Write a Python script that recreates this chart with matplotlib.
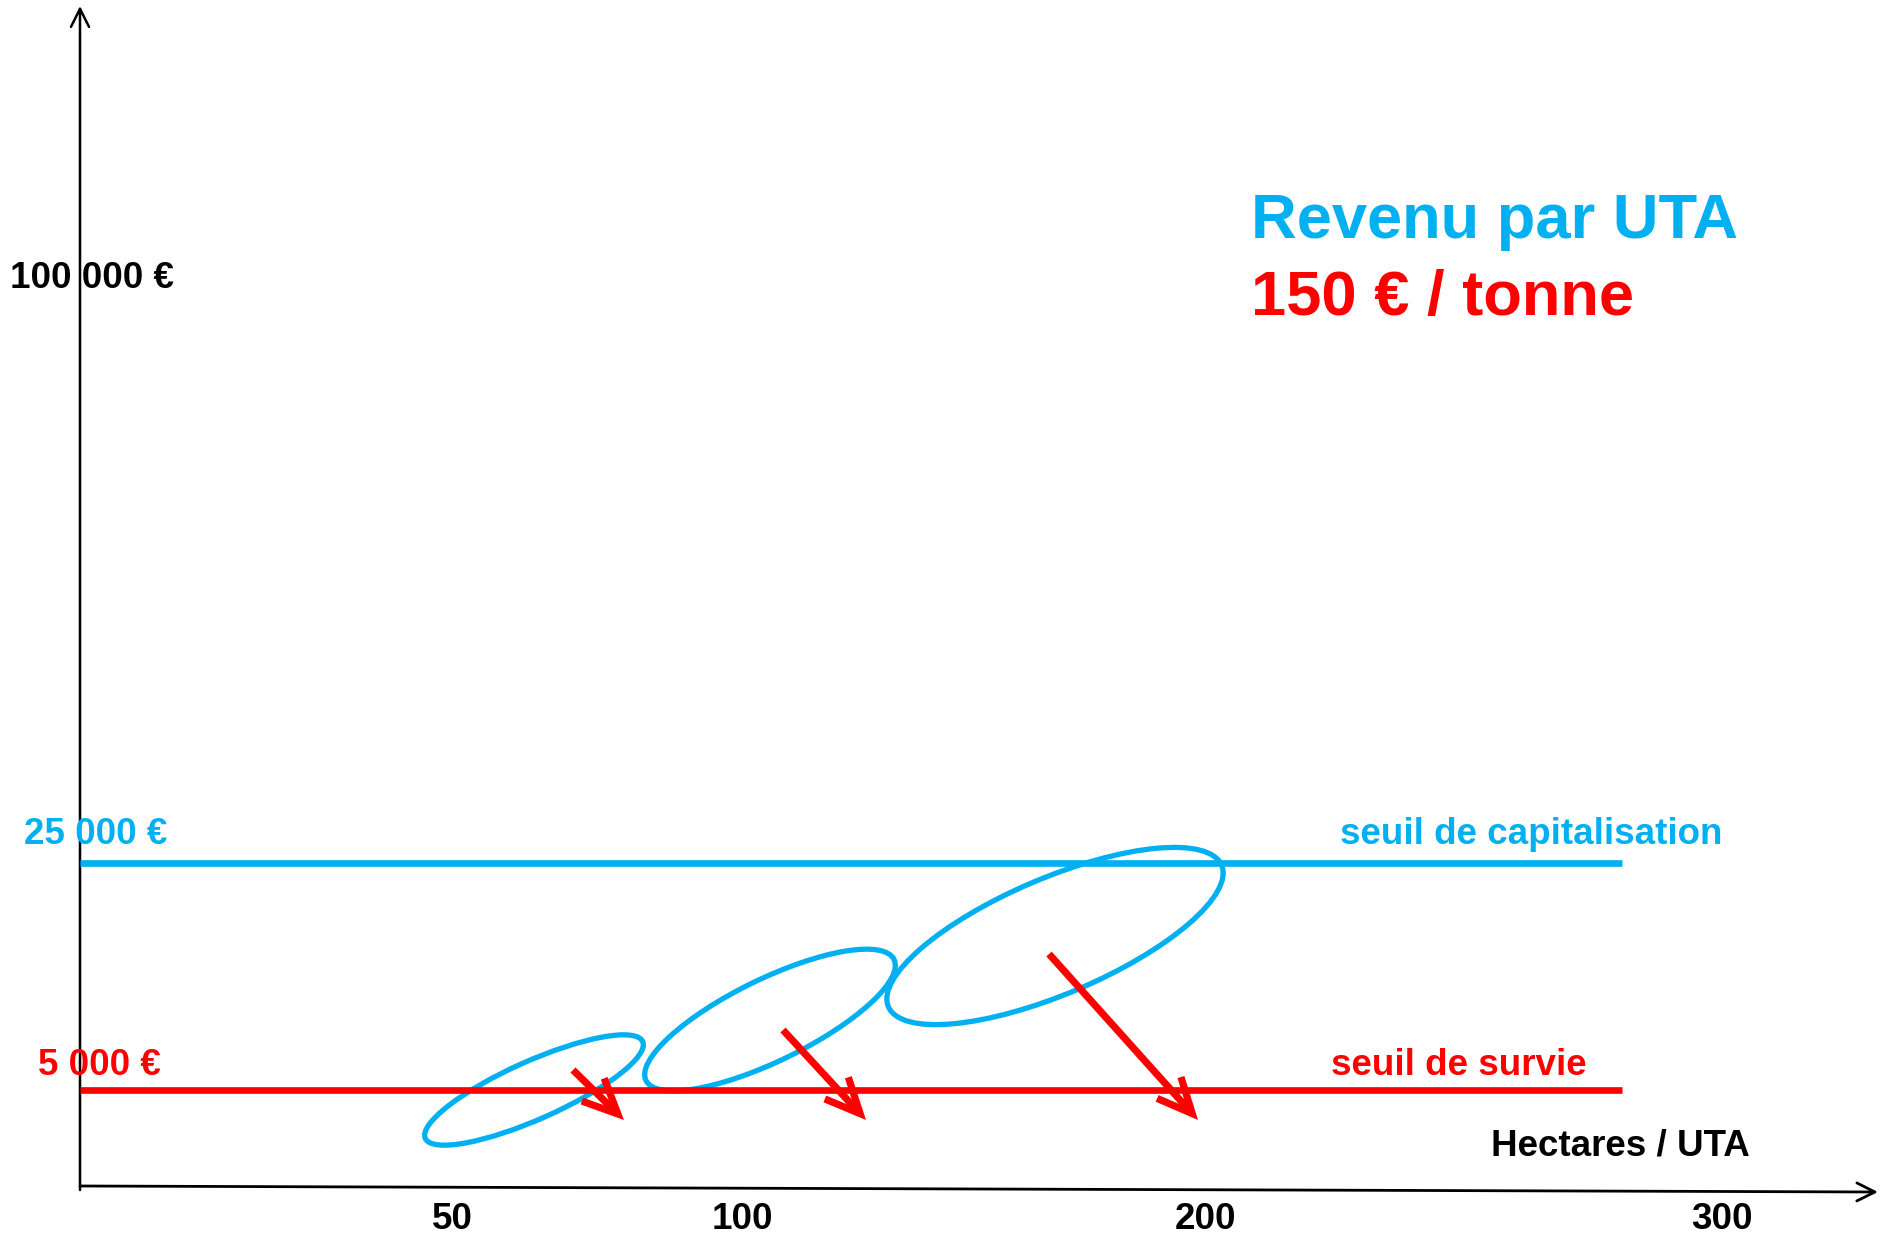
import matplotlib.pyplot as plt
from matplotlib.patches import Ellipse, FancyArrowPatch

plt.rcParams['font.family'] = ['Liberation Sans', 'DejaVu Sans']

CYAN = '#00B0F0'
RED = '#FF0000'

# schematic diagram, units are pixels measured from the axes origin
x_ticks = ["50", "100", "200", "300"]
x_tick_pos = [372, 662, 1126, 1642]

thresholds = ["25 000 €", "5 000 €"]
threshold_names = ["seuil de capitalisation", "seuil de survie"]
threshold_y = [323, 96]
threshold_colors = [CYAN, RED]

# farm groups (ellipses): centre x, centre y, width, height, tilt
groups_x = [454, 690, 975]
groups_y = [96, 166, 250]
groups_w = [238, 276, 362]
groups_h = [58, 82, 116]
groups_angle = [24, 26, 23]

# income drop arrows: start -> end
drop_x0 = [493, 703, 969]
drop_y0 = [116, 156, 232]
drop_x1 = [544, 786, 1118]
drop_y1 = [66, 66, 66]


def main():
    fig = plt.figure(figsize=(18.84, 12.35), dpi=100)
    ax = fig.add_axes([0, 0, 1, 1])
    ax.set_xlim(-80, 1804)
    ax.set_ylim(-49, 1186)
    ax.axis('off')

    # axes with open arrow heads
    ax.add_patch(FancyArrowPatch((0, -4), (0, 1180), arrowstyle='->,head_length=1.3,head_width=0.65',
                                 mutation_scale=10, lw=1.8, color='black', shrinkA=0, shrinkB=0))
    ax.add_patch(FancyArrowPatch((0, 0), (1798, -6), arrowstyle='->,head_length=1.3,head_width=0.65',
                                 mutation_scale=10, lw=2.0, color='black', shrinkA=0, shrinkB=0))

    # thresholds
    for label, name, y, c in zip(thresholds, threshold_names, threshold_y, threshold_colors):
        ax.plot([0, 1542], [y, y], color=c, lw=4.8, solid_capstyle='butt')
    ax.text(16, threshold_y[0] + 19, thresholds[0], color=CYAN, fontsize=26.5, fontweight='bold',
            ha='center', va='baseline')
    ax.text(19, threshold_y[1] + 15, thresholds[1], color=RED, fontsize=26.5, fontweight='bold',
            ha='center', va='baseline')
    ax.text(1642, threshold_y[0] + 19, threshold_names[0], color=CYAN, fontsize=26.5,
            fontweight='bold', ha='right', va='baseline')
    ax.text(1507, threshold_y[1] + 15, threshold_names[1], color=RED, fontsize=26.5,
            fontweight='bold', ha='right', va='baseline')

    ax.text(12, 898, "100 000 €", color='black', fontsize=26.5, fontweight='bold',
            ha='center', va='baseline')

    for lab, x in zip(x_ticks, x_tick_pos):
        ax.text(x, -43, lab, color='black', fontsize=26.5, fontweight='bold',
                ha='center', va='baseline')
    ax.text(1670, 31, "Hectares / UTA", color='black', fontsize=26.5, fontweight='bold',
            ha='right', va='baseline')

    # groups of farms
    for x, y, w, h, a in zip(groups_x, groups_y, groups_w, groups_h, groups_angle):
        ax.add_patch(Ellipse((x, y), w, h, angle=a, fill=False, edgecolor=CYAN, lw=3.8))

    for x0, y0, x1, y1 in zip(drop_x0, drop_y0, drop_x1, drop_y1):
        ax.add_patch(FancyArrowPatch((x0, y0), (x1, y1), arrowstyle='->,head_length=2.5,head_width=1.15',
                                     mutation_scale=10, lw=5.2, color=RED, shrinkA=0, shrinkB=0,
                                     joinstyle='miter', capstyle='butt'))

    ax.text(1171, 948, "Revenu par UTA", color=CYAN, fontsize=45.5, fontweight='bold',
            ha='left', va='baseline')
    ax.text(1171, 871, "150 € / tonne", color=RED, fontsize=45.5, fontweight='bold',
            ha='left', va='baseline')

    fig.savefig("out.png", dpi=100, facecolor='white')


if __name__ == "__main__":
    main()
